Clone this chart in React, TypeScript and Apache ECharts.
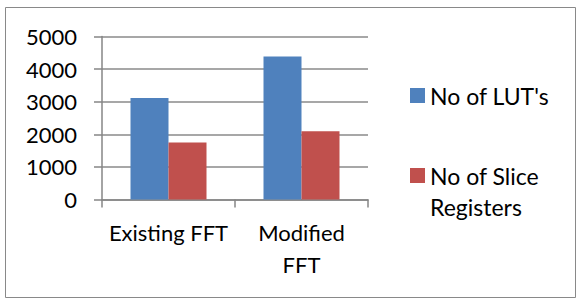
import React, { useEffect, useRef } from "react";
import * as echarts from "echarts";

const categories = ["Existing FFT", "Modified FFT"];
const seriesNames = ["No of LUT's", "No of Slice Registers"];
const lutData = [3110, 4390];
const sliceData = [1750, 2090];
const yTicks = { min: 0, max: 5000, interval: 1000 };

const FONT = "Lato";

export default function App() {
  const ref = useRef<HTMLDivElement>(null);
  useEffect(() => {
    if (!ref.current) return;
    const chart = echarts.init(ref.current, undefined, { renderer: "svg" });
    chart.setOption({
      animation: false,
      backgroundColor: "#ffffff",
      graphic: [
        {
          type: "rect",
          shape: { x: 5.5, y: 7.5, width: 570, height: 290 },
          style: { fill: "none", stroke: "#898989", lineWidth: 1 },
          silent: true,
        },
      ],
      grid: { left: 102, right: 209, top: 36.5, bottom: 99.5 },
      legend: [
        {
          data: [seriesNames[0]],
          orient: "vertical",
          left: 410,
          top: 80,
          padding: 0,
          itemWidth: 15,
          itemHeight: 15,
          icon: "rect",
          textStyle: { fontFamily: FONT, fontSize: 23, color: "#000", lineHeight: 31 },
        },
        {
          data: [seriesNames[1]],
          orient: "vertical",
          left: 410,
          top: 129,
          padding: 0,
          itemWidth: 15,
          itemHeight: 15,
          icon: "rect",
          formatter: (n: string) => "\n" + n.replace("Slice ", "Slice\n"),
          textStyle: {
            fontFamily: FONT,
            fontSize: 23,
            color: "#000",
            lineHeight: 31,
          },
        },
      ],
      xAxis: {
        type: "category",
        data: categories,
        axisLine: { lineStyle: { color: "#868686", width: 1.5 } },
        axisTick: { show: true, length: 8, lineStyle: { color: "#868686", width: 1.5 } },
        axisLabel: {
          fontFamily: FONT,
          fontSize: 22,
          color: "#000",
          margin: 17,
          lineHeight: 32,
          interval: 0,
          formatter: (v: string) => (v === "Modified FFT" ? "Modified\nFFT" : v),
        },
      },
      yAxis: {
        type: "value",
        min: yTicks.min,
        max: yTicks.max,
        interval: yTicks.interval,
        axisLine: { show: true, lineStyle: { color: "#868686", width: 1.5 } },
        axisTick: { show: true, length: 8, lineStyle: { color: "#868686", width: 1.5 } },
        splitLine: { lineStyle: { color: "#8a8a8a", width: 1.5 } },
        axisLabel: {
          fontFamily: FONT,
          fontSize: 22,
          color: "#000",
          margin: 25,
          formatter: (v: number) => String(v),
        },
      },
      series: [
        {
          name: seriesNames[0],
          type: "bar",
          data: lutData,
          barWidth: 38,
          barGap: "0%",
          itemStyle: { color: "#4F81BD" },
        },
        {
          name: seriesNames[1],
          type: "bar",
          data: sliceData,
          barWidth: 38,
          barGap: "0%",
          itemStyle: { color: "#C0504D" },
        },
      ],
    });
    return () => chart.dispose();
  }, []);
  return (
    <div
      ref={ref}
      style={{ position: "absolute", left: 0, top: 0, width: 577, height: 299 }}
    />
  );
}
